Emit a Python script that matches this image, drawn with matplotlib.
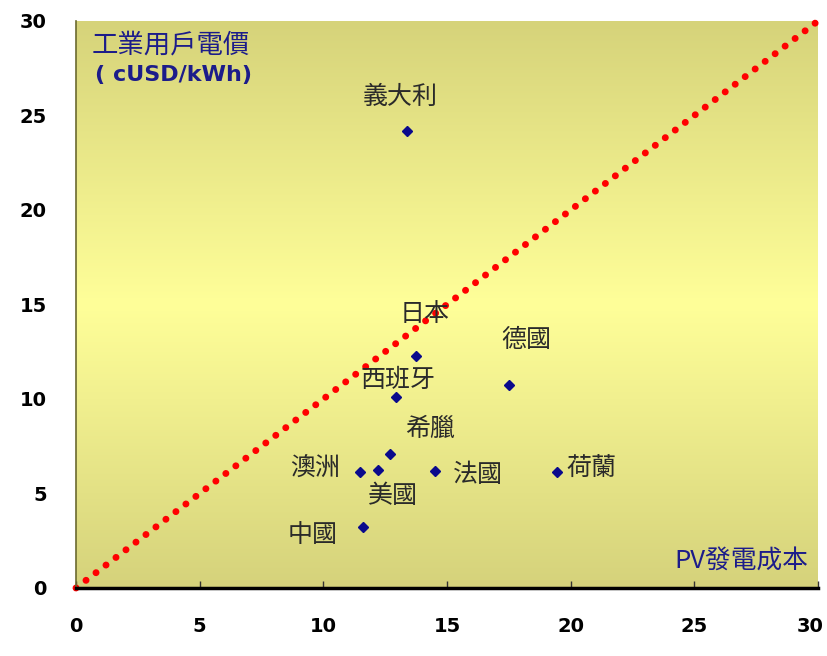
"""PV generation cost vs. industrial electricity price, by country."""

import matplotlib
matplotlib.use("Agg")
import matplotlib.pyplot as plt
import matplotlib.transforms as mtransforms
import numpy as np
from matplotlib.colors import LinearSegmentedColormap

plt.rcParams["font.family"] = ["Noto Sans CJK TC", "DejaVu Sans"]

countries = ["義大利", "日本", "德國", "西班牙", "希臘", "澳洲", "美國", "法國", "荷蘭", "中國"]
pv_cost = [13.4, 13.75, 17.5, 12.95, 12.7, 11.5, 12.2, 14.5, 19.45, 11.6]
power_price = [24.2, 12.3, 10.75, 10.1, 7.1, 6.15, 6.25, 6.2, 6.15, 3.2]
label_xy = [(13.1, 26.0), (14.1, 14.5), (18.2, 13.1), (13.0, 11.0), (14.3, 8.4),
            (9.65, 6.35), (12.8, 4.85), (16.25, 6.0), (20.85, 6.3), (9.55, 2.8)]
ticks = [0, 5, 10, 15, 20, 25, 30]

fig = plt.figure(figsize=(8.28, 6.56), dpi=100)
ax = fig.add_axes([0.0918, 0.1037, 0.8961, 0.8643])
ax.set_xlim(0, 30)
ax.set_ylim(0, 30)

# vertical olive -> pale yellow -> olive background
bg = LinearSegmentedColormap.from_list("bg", ["#d6d37a", "#ffff99", "#d5d27b"])
grad = np.linspace(0, 1, 256).reshape(-1, 1)
ax.imshow(grad, cmap=bg, extent=[0, 1, 0, 1], transform=ax.transAxes,
          aspect="auto", zorder=0, interpolation="bicubic")

ax.plot([0, 30], [0, 30], color="#ff0000", lw=5, dashes=[0.01, 1.8],
        dash_capstyle="round", clip_on=False, zorder=2)
ax.plot(pv_cost, power_price, "D", color="#0a0a8c", markersize=5.5,
        linestyle="none", zorder=3)

for name, (lx, ly) in zip(countries, label_xy):
    ax.text(lx, ly, name, fontsize=18, color="#2a2a2a", ha="center", va="center", zorder=4)

ax.text(0.0216, 0.958, "工業用戶電價", transform=ax.transAxes, fontsize=19,
        color="#1c1c8a", ha="left", va="center")
ax.text(0.026, 0.905, "( cUSD/kWh)", transform=ax.transAxes, fontsize=16,
        fontweight="bold", color="#1c1c8a", ha="left", va="center",
        family=["DejaVu Sans"])
ax.text(0.9865, 0.049, "PV發電成本", transform=ax.transAxes, fontsize=18.5,
        color="#1c1c8a", ha="right", va="center")

ax.set_xticks(ticks)
ax.set_yticks(ticks)
ax.set_xticklabels([str(t) for t in ticks], fontweight="bold", family=["DejaVu Sans"])
ax.set_yticklabels([str(t) for t in ticks], fontweight="bold", family=["DejaVu Sans"])
ax.tick_params(axis="x", direction="in", length=5, width=1, color="#333333",
               pad=21, labelsize=14)
ax.tick_params(axis="y", length=0, pad=21, labelsize=14)

# keep the last x label inside the canvas
last = ax.get_xticklabels()[-1]
last.set_transform(last.get_transform()
                   + mtransforms.ScaledTranslation(-6 / 72, 0, fig.dpi_scale_trans))

for side in ("top", "right"):
    ax.spines[side].set_visible(False)
ax.spines["bottom"].set_linewidth(2.5)
ax.spines["bottom"].set_color("black")
ax.spines["left"].set_linewidth(1.2)
ax.spines["left"].set_color("#6b6a30")

fig.savefig("out.png", dpi=100)
